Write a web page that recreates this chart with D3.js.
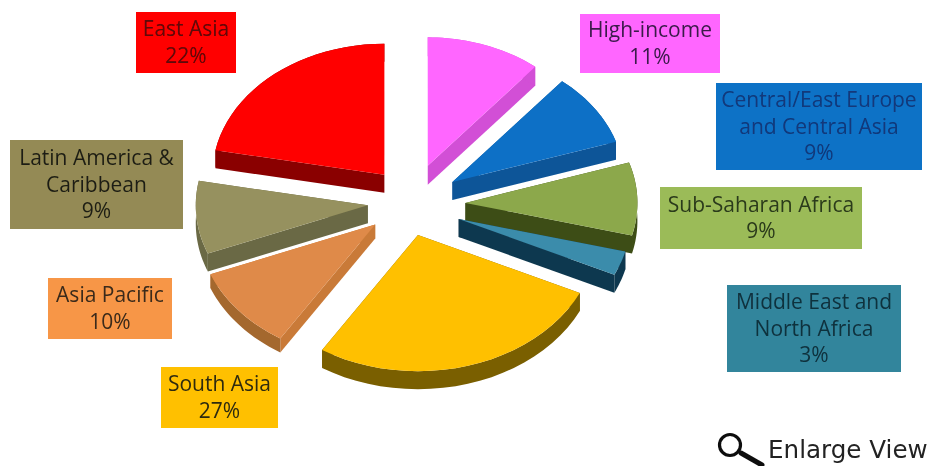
<!DOCTYPE html>
<html><head><meta charset="utf-8">
<script src="https://cdn.jsdelivr.net/npm/d3@7"></script>
<style>html,body{margin:0;background:#fff}svg{display:block}text{font-family:"Open Sans",sans-serif}</style>
</head><body><svg id="c" width="928" height="466"></svg>
<script>
// Data
const regions = ["High-income","Central/East Europe and Central Asia","Sub-Saharan Africa","Middle East and North Africa","South Asia","Asia Pacific","Latin America & Caribbean","East Asia"];
const shares  = [11,9,9,3,27,10,9,22];
const labelLines = [["High-income","11%"],["Central/East Europe","and Central Asia","9%"],["Sub-Saharan Africa","9%"],["Middle East and","North Africa","3%"],["South Asia","27%"],["Asia Pacific","10%"],["Latin America &","Caribbean","9%"],["East Asia","22%"]];
// Styles
const topColors  = ["#FF66FF","#0A70C6","#8CA84C","#3A8CAB","#FFC000","#DF8A48","#96915E","#FF0000"];
const sideColors = ["#D24FD6","#0B5498","#3E4E17","#11394F","#7A5F00","#C97A38","#6A6945","#8A0000"];
const arcColors  = ["#D24FD6","#0B5498","#3E4E17","#11394F","#7A5F00","#A4672E","#6A6945","#8A0000"];
const boxColors  = ["#FF66FF","#0B72C6","#9BBB59","#31859C","#FFC000","#F79646","#948A54","#FF0000"];
const textColors = ["#3a1a4a","#12387a","#2b3a1a","#10303c","#2e2a10","#3a2a1a","#1f1f14","#5a0808"];
const boxes = [[580,14,140,59],[716,83,206,87],[660,187,202,62],[727,285,174,87],[161,367,117,61],[48,278,124,61],[10,140,173,89],[136,12,100,61]];
const explode = .27;
const nudgeX = [-3,-1,4,0,-10,-4,-1,-1];
const nudgeY = [-1,2,4,7,1,2,2,2];
const radiusScale = [.98,1,1,1,1.04,1.03,1,1];
const thickness = [19,18,18,18,18,14,18,18];
const drawOrder = [7,0,1,2,3,6,5,4];

const cx=415, cy=200, rx=172, ry=131;
const svg=d3.select("#c").append("g").attr("filter","url(#soft)");
const defs=d3.select("#c").append("defs");
defs.append("filter").attr("id","soft").attr("x",0).attr("y",0).attr("width","100%").attr("height","100%")
  .attr("filterUnits","userSpaceOnUse")
  .append("feGaussianBlur").attr("stdDeviation",.45);
const arcs=d3.pie().sort(null).value(d=>d)(shares);
const project=(r,a)=>[r*rx*Math.sin(a), -r*ry*Math.cos(a)];
const line=d3.line();

drawOrder.forEach(i=>{
  const s=arcs[i], mid=(s.startAngle+s.endAngle)/2, t=thickness[i];
  const [ox,oy]=project(explode,mid);
  const apex=[cx+ox+nudgeX[i],cy+oy+nudgeY[i]];
  const steps=d3.range(0,25).map(k=>s.startAngle+(s.endAngle-s.startAngle)*k/24);
  const rim=steps.map(a=>{const p=project(radiusScale[i],a);return [apex[0]+p[0],apex[1]+p[1]];});
  const g=svg.append("g");
  const drop=p=>[p[0],p[1]+t];
  const wall=(pts,fill)=>g.append("path")
    .attr("d",line([...pts,...pts.slice().reverse().map(drop)])+"Z").attr("fill",fill);
  wall([apex,rim[0]],sideColors[i]);
  wall([rim[24],apex],sideColors[i]);
  wall(rim,arcColors[i]);
  g.append("path").attr("d",line([apex,...rim])+"Z").attr("fill",topColors[i]);
});

labelLines.forEach((lines,i)=>{
  const [x,y,w,h]=boxes[i];
  svg.append("rect").attr("x",x).attr("y",y).attr("width",w).attr("height",h).attr("fill",boxColors[i]);
  const lh=26.5, y0=y+h/2-(lines.length-1)*lh/2+7;
  lines.forEach((l,j)=>svg.append("text").attr("x",x+w/2).attr("y",y0+j*lh)
    .attr("text-anchor","middle").attr("font-size",21).attr("fill",textColors[i]).text(l));
});

// Enlarge View control
const icon=svg.append("g").attr("fill","none").attr("stroke","#111");
icon.append("circle").attr("cx",730).attr("cy",445).attr("r",10.5).attr("stroke-width",3.2);
icon.append("line").attr("x1",741).attr("y1",453).attr("x2",762).attr("y2",465).attr("stroke-width",5).attr("stroke-linecap","round");
svg.append("text").attr("x",768).attr("y",458).attr("font-size",24.6).attr("fill","#222")
  .style("font-family","DejaVu Sans").text("Enlarge View");
</script></body></html>
